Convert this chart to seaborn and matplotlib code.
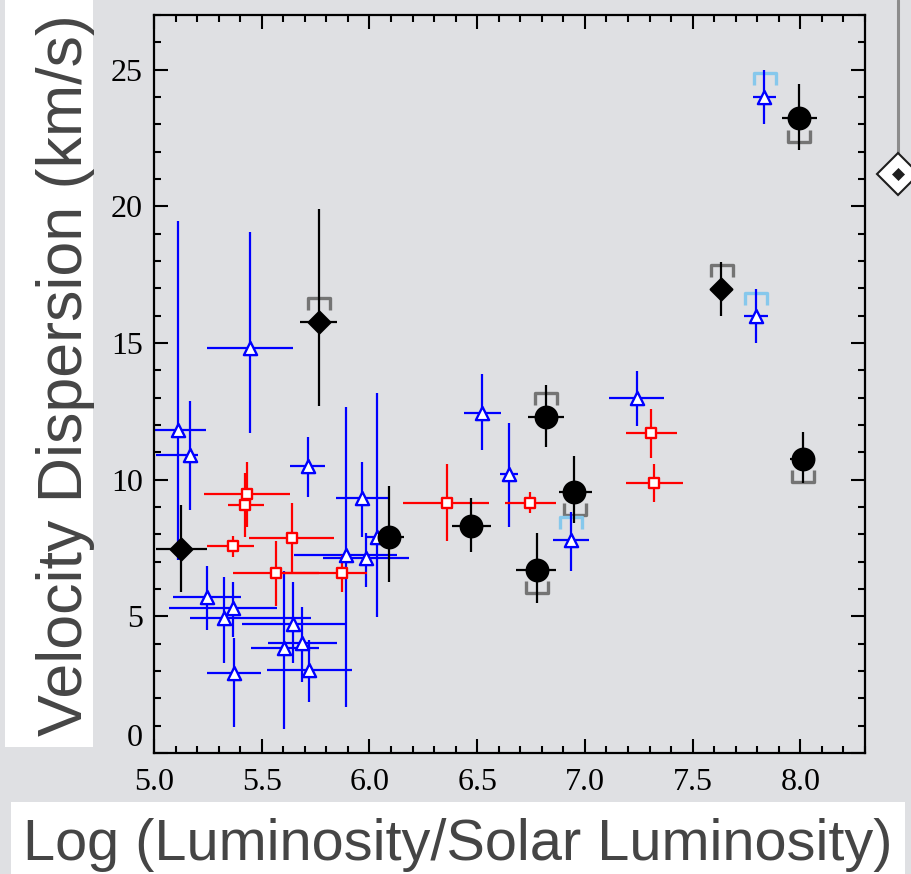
import numpy as np
import pandas as pd
import matplotlib
matplotlib.use("Agg")
import matplotlib.pyplot as plt
import seaborn as sns
from matplotlib.path import Path
from matplotlib.markers import MarkerStyle
from matplotlib.lines import Line2D
from matplotlib.patches import Rectangle
from matplotlib import font_manager
from matplotlib.ticker import MultipleLocator

# ---------------- data ----------------
# blue open triangles: centre, x-range and y-range of the error bars
tri_x   = [5.113, 5.167, 5.446, 5.714, 5.967, 6.034, 5.890, 5.984, 5.247, 5.368, 5.327,
           5.647, 5.605, 5.688, 5.720, 5.371, 6.524, 6.649, 7.241, 6.934, 7.833, 7.793]
tri_y   = [11.82, 10.90, 14.81, 10.50, 9.32, 7.92, 7.24, 7.12, 5.72, 5.32, 4.93,
           4.72, 3.83, 4.01, 3.04, 2.92, 12.43, 10.20, 13.00, 7.79, 24.01, 15.99]
tri_xlo = [4.990, 5.008, 5.247, 5.631, 5.845, 5.990, 5.650, 5.786, 5.090, 5.070, 5.167,
           5.410, 5.449, 5.528, 5.523, 5.247, 6.440, 6.606, 7.114, 6.854, 7.782, 7.740]
tri_xhi = [5.240, 5.206, 5.647, 5.794, 6.088, 6.080, 6.127, 6.185, 5.404, 5.570, 5.727,
           5.890, 5.766, 5.848, 5.918, 5.495, 6.610, 6.690, 7.368, 7.020, 7.888, 7.849]
tri_ylo = [7.06, 8.89, 11.70, 9.38, 7.92, 4.99, 1.69, 6.08, 4.50, 4.26, 3.28,
           3.28, 0.88, 2.59, 1.88, 0.96, 11.09, 8.28, 11.98, 6.67, 23.00, 15.00]
tri_yhi = [19.48, 12.89, 19.07, 11.55, 10.66, 13.16, 12.67, 8.06, 6.85, 6.25, 6.45,
           6.27, 6.67, 5.35, 4.13, 4.20, 13.87, 12.06, 13.98, 8.83, 24.99, 16.96]

# red open squares
sq_x   = [5.432, 5.424, 5.368, 5.639, 5.566, 5.871, 6.359, 6.746, 7.309, 7.321]
sq_y   = [9.48, 9.07, 7.59, 7.88, 6.57, 6.57, 9.16, 9.16, 11.70, 9.89]
sq_xlo = [5.234, 5.342, 5.247, 5.443, 5.368, 5.600, 6.157, 6.630, 7.190, 7.190]
sq_xhi = [5.631, 5.511, 5.466, 5.836, 5.766, 5.990, 6.557, 6.867, 7.427, 7.454]
sq_ylo = [8.28, 7.92, 7.18, 6.57, 5.38, 5.88, 7.77, 8.77, 10.78, 9.17]
sq_yhi = [10.66, 10.26, 7.94, 9.16, 7.76, 7.24, 10.57, 9.56, 12.57, 10.56]

# black filled circles
circ_x   = [6.092, 6.818, 6.472, 6.951, 6.776, 7.994, 8.011]
circ_y   = [7.89, 12.31, 8.32, 9.56, 6.70, 23.22, 10.76]
circ_xlo = [6.020, 6.735, 6.382, 6.880, 6.680, 7.914, 7.953]
circ_xhi = [6.160, 6.903, 6.565, 7.035, 6.866, 8.077, 8.069]
circ_ylo = [6.27, 11.21, 7.37, 8.40, 5.48, 22.06, 9.87]
circ_yhi = [9.77, 13.46, 9.32, 10.87, 8.04, 24.48, 11.73]

# black filled diamonds
dia_x   = [5.125, 5.765, 7.632]
dia_y   = [7.46, 15.78, 16.98]
dia_xlo = [5.008, 5.678, 7.632]
dia_xhi = [5.245, 5.851, 7.632]
dia_ylo = [5.88, 12.70, 15.99]
dia_yhi = [9.07, 19.89, 17.98]

# gray brackets (open downward = "up", open upward = "down")
gray_up_x = [5.764, 6.819, 7.635]
gray_up_y = [16.41, 12.95, 17.62]
gray_dn_x = [6.955, 6.776, 7.994, 8.011]
gray_dn_y = [8.93, 6.06, 22.59, 10.14]
# light-blue brackets
lb_up_x = [6.935, 7.834, 7.793]
lb_up_y = [8.43, 24.66, 16.61]

x_ticks = [5.0, 5.5, 6.0, 6.5, 7.0, 7.5, 8.0]
x_tick_labels = ["5.0", "5.5", "6.0", "6.5", "7.0", "7.5", "8.0"]
y_ticks = [0, 5, 10, 15, 20, 25]
y_tick_labels = ["0", "5", "10", "15", "20", "25"]

x_label = "Log (Luminosity/Solar Luminosity)"
y_label = "Velocity Dispersion (km/s)"

# ---------------- style ----------------
sns.set_style("ticks")
BG = "#dfe0e3"
names = {f.name for f in font_manager.fontManager.ttflist}
serif = "Liberation Serif" if "Liberation Serif" in names else "DejaVu Serif"
sans = "Liberation Sans" if "Liberation Sans" in names else "DejaVu Sans"
narrow = "Liberation Sans Narrow" if "Liberation Sans Narrow" in names else sans
plt.rcParams["font.family"] = [serif, "DejaVu Sans"]

W, H = 912, 874
fig = plt.figure(figsize=(W / 100, H / 100), dpi=100, facecolor=BG)
ax = fig.add_axes([154 / W, 1 - 753 / H, (865 - 154) / W, (753 - 15) / H])
ax.set_facecolor(BG)


def err(c, lo, hi):
    c = np.asarray(c, float)
    return np.vstack([c - np.asarray(lo, float), np.asarray(hi, float) - c])


def series(x, y, xlo, xhi, ylo, yhi, color, marker, ms, face, z):
    ax.errorbar(x, y, xerr=err(x, xlo, xhi), yerr=err(y, ylo, yhi), fmt="none",
                ecolor=color, elinewidth=1.6, capsize=0, zorder=2)
    df = pd.DataFrame({"x": x, "y": y})
    sns.scatterplot(data=df, x="x", y="y", marker=marker, s=ms ** 2, color=face,
                    edgecolor=color, linewidth=1.7, zorder=z, ax=ax, legend=False)


# brackets
up_path = Path([(-1, -0.5), (-1, 0.5), (1, 0.5), (1, -0.5)],
               [Path.MOVETO, Path.LINETO, Path.LINETO, Path.LINETO])
dn_path = Path([(-1, 0.5), (-1, -0.5), (1, -0.5), (1, 0.5)],
               [Path.MOVETO, Path.LINETO, Path.LINETO, Path.LINETO])
up_m = MarkerStyle(up_path, fillstyle="none", joinstyle="miter", capstyle="butt")
dn_m = MarkerStyle(dn_path, fillstyle="none", joinstyle="miter", capstyle="butt")
ax.plot(gray_up_x, gray_up_y, ls="none", marker=up_m, ms=16, mew=2.4, mec="#747474", zorder=1.5)
ax.plot(gray_dn_x, gray_dn_y, ls="none", marker=dn_m, ms=16, mew=2.4, mec="#747474", zorder=1.5)
ax.plot(lb_up_x, lb_up_y, ls="none", marker=up_m, ms=16, mew=2.4, mec="#86c8ec", zorder=1.5)

series(tri_x, tri_y, tri_xlo, tri_xhi, tri_ylo, tri_yhi, "#0000ff", "^", 9.5, "white", 3.0)
series(sq_x, sq_y, sq_xlo, sq_xhi, sq_ylo, sq_yhi, "#ff0000", "s", 7.5, "white", 3.1)
series(circ_x, circ_y, circ_xlo, circ_xhi, circ_ylo, circ_yhi, "black", "o", 15.5, "black", 3.2)
series(dia_x, dia_y, dia_xlo, dia_xhi, dia_ylo, dia_yhi, "black", "D", 11, "black", 3.3)

ax.set_xlim(5.0, 8.30)
ax.set_ylim(0, 27.0)
ax.set_xticks(x_ticks)
ax.set_xticklabels(x_tick_labels)
ax.set_yticks(y_ticks)
ax.set_yticklabels(y_tick_labels)
ax.xaxis.set_minor_locator(MultipleLocator(0.1))
ax.yaxis.set_minor_locator(MultipleLocator(1))
ax.set_xlabel("")
ax.set_ylabel("")
ax.tick_params(which="both", direction="in", top=True, right=True, width=1.5, color="black")
ax.tick_params(which="major", length=10)
ax.tick_params(which="minor", length=5)
ax.tick_params(axis="y", which="major", labelsize=23, pad=8, labelcolor="black")
ax.tick_params(axis="x", which="major", labelsize=23, pad=11, labelcolor="black")
for s in ax.spines.values():
    s.set_linewidth(1.6)
    s.set_color("black")
    s.set_visible(True)
ax.yaxis.get_major_ticks()[0].label1.set_verticalalignment("bottom")

# ---------------- slide decorations: white label boxes and slider ----------------
fig.add_artist(Rectangle((5 / W, 1 - 747 / H), 88 / W, 747 / H, transform=fig.transFigure,
                         facecolor="white", edgecolor="none", zorder=0.5))
fig.add_artist(Rectangle((11 / W, 0), 894 / W, 72 / H, transform=fig.transFigure,
                         facecolor="white", edgecolor="none", zorder=0.5))
fig.add_artist(Line2D([898 / W, 898 / W], [1.0, 1 - 153 / H], transform=fig.transFigure,
                      color="#8c8c8c", lw=2.2, zorder=1))
fig.add_artist(Line2D([898 / W], [1 - 174 / H], transform=fig.transFigure, marker="D",
                      ms=21, mfc="white", mec="#1e1e1e", mew=1.5, ls="none", zorder=2))
fig.add_artist(Line2D([898 / W], [1 - 174 / H], transform=fig.transFigure, marker="D",
                      ms=6, mfc="#1e1e1e", mec="#1e1e1e", mew=0.5, ls="none", zorder=3))

ylab = fig.text(82 / W, 1 - 375.5 / H, y_label, rotation=90, rotation_mode="anchor",
                ha="center", va="baseline", color="#454545", family=[narrow, "DejaVu Sans"],
                fontsize=50, zorder=2)
xlab = fig.text(457.5 / W, 14 / H, x_label, ha="center", va="baseline", color="#454545",
                family=[sans, "DejaVu Sans"], fontsize=40, zorder=2)

# fit label sizes to the reference lengths
r = fig.canvas.get_renderer()
bb = ylab.get_window_extent(r)
ylab.set_fontsize(50 * 722 / bb.height)
bb = xlab.get_window_extent(r)
xlab.set_fontsize(40 * 870 / bb.width)

fig.savefig("out.png", dpi=100, facecolor=BG)
